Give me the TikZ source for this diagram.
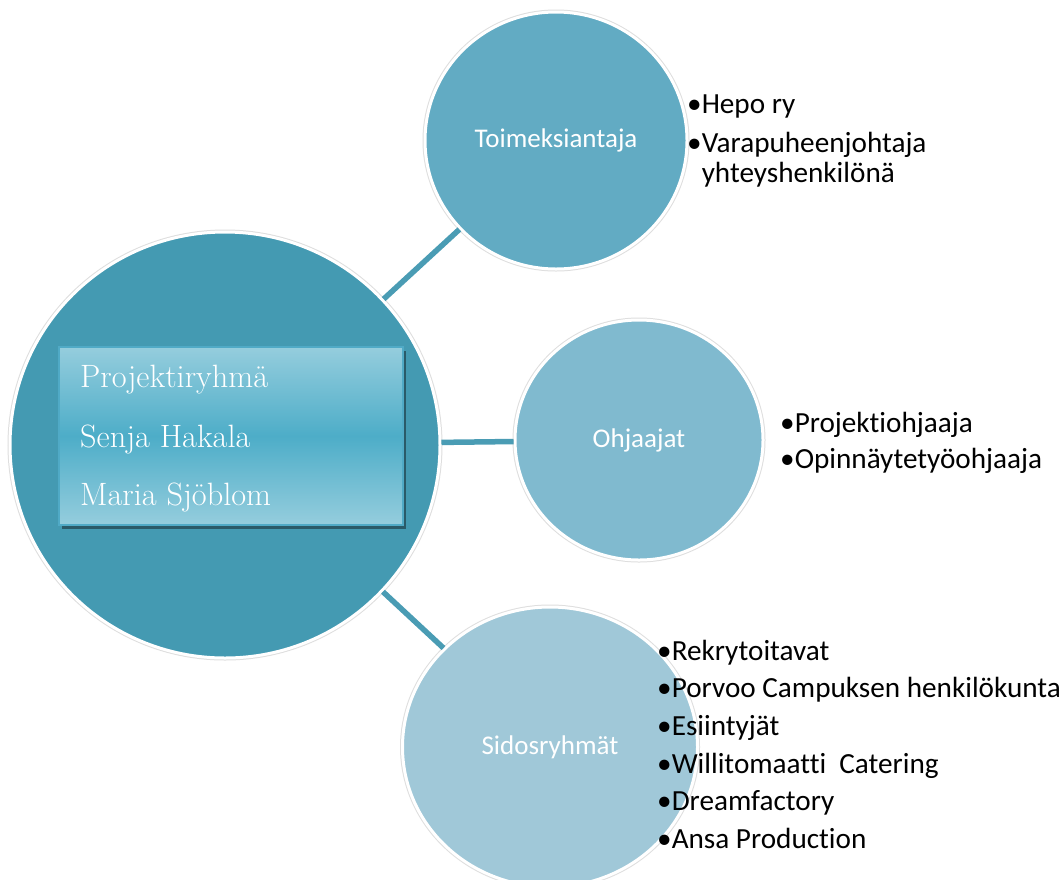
\documentclass[tikz,border=0pt]{standalone}
\usepackage{fontspec}
\newfontfamily\calfont[Ligatures=NoCommon]{Carlito}
\usetikzlibrary{shapes.geometric,shadows}
\definecolor{mainc}{RGB}{68,154,178}
\definecolor{toimc}{RGB}{98,171,195}
\definecolor{ohjc}{RGB}{128,186,207}
\definecolor{sidc}{RGB}{160,200,216}
\definecolor{linec}{RGB}{74,156,180}
\definecolor{boxlight}{RGB}{149,205,221}
\definecolor{boxdark}{RGB}{77,173,200}
\definecolor{boxborder}{RGB}{80,170,198}
\definecolor{boxshadow}{RGB}{42,90,104}
\begin{document}
\begin{tikzpicture}[x=1pt,y=-1pt,
  bub/.style={ellipse, draw=white, line width=3pt,
    preaction={draw=black!13, line width=5pt},
    inner sep=0pt, text=white, font=\calfont\fontsize{27}{30}\selectfont},
  conn/.style={draw=linec, line width=5.5pt},
  boxtext/.style={anchor=base west, inner sep=0pt, text=white, font=\rmfamily\fontsize{32.3}{34}\selectfont},
  item/.style={anchor=base west, inner sep=0pt, text=black, font=\calfont\fontsize{29.2}{32}\selectfont}]
\useasboundingbox (0,0) rectangle (1062,879);
\fill[white] (0,0) rectangle (1062,879);

% bubbles
\node[bub, fill=mainc, minimum width=430pt, minimum height=426pt] (main) at (225,445) {};
\node[bub, fill=toimc, minimum width=262pt, minimum height=257pt] (toim) at (556,140.5) {Toimeksiantaja};
\node[bub, fill=ohjc, minimum width=248pt, minimum height=240pt] (ohj) at (639,440) {Ohjaajat};
\node[bub, fill=sidc, minimum width=295pt, minimum height=280pt] (sid) at (550,747) {Sidosryhmät};

% connectors
\draw[conn] (main) -- (toim);
\draw[conn] (main) -- (ohj);
\draw[conn] (main) -- (sid);

% box inside main bubble
\node[rectangle, minimum width=344pt, minimum height=178pt,
  top color=boxlight, bottom color=boxlight, middle color=boxdark,
  draw=boxborder, line width=2pt,
  drop shadow={shadow xshift=3pt, shadow yshift=-4pt, fill=boxshadow, opacity=1}]
  (box) at (231,436) {};
\node[boxtext] (b1) at (80,387) {Projektiryhmä};
\node[boxtext] (b2) at (80,447) {Senja Hakala};
\node[boxtext] (b3) at (80,505) {Maria Sjöblom};

% lists
\node[item] (t1) at (687,113) {•Hepo ry};
\node[item] (t2) at (687,152) {•Varapuheenjohtaja};
\node[item] (t3) at (687,182) {\phantom{•}yhteyshenkilönä};

\node[item] (o1) at (780,432) {•Projektiohjaaja};
\node[item] (o2) at (780,468) {•Opinnäytetyöohjaaja};

\node[item] (s1) at (657,660) {•Rekrytoitavat};
\node[item] (s2) at (657,697.7) {•Porvoo Campuksen henkilökunta};
\node[item] (s3) at (657,735.4) {•Esiintyjät};
\node[item] (s4) at (657,773) {•Willitomaatti\ \ Catering};
\node[item] (s5) at (657,810.8) {•Dreamfactory};
\node[item] (s6) at (657,848.5) {•Ansa Production};
\end{tikzpicture}
\end{document}
